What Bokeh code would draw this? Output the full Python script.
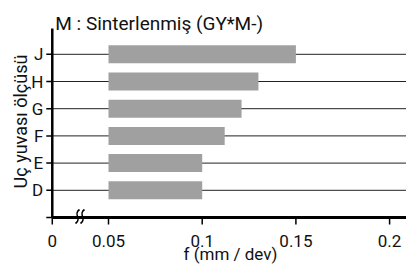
from math import pi
from bokeh.plotting import figure
from bokeh.models import Range1d
from bokeh.core.properties import value
from bokeh.embed import file_html
from bokeh.resources import INLINE

# ---- data ----
sizes = ["D", "E", "F", "G", "H", "J"]
size_pos = [1, 2, 3, 4, 5, 6]
f_min = [0.05, 0.05, 0.05, 0.05, 0.05, 0.05]
f_max = [0.100, 0.100, 0.112, 0.121, 0.130, 0.150]
x_ticks = [0.02, 0.05, 0.1, 0.15, 0.2]
x_tick_labels = ["0", "0.05", "0.1", "0.15", "0.2"]
y_ticks = [0, 1, 2, 3, 4, 5, 6]
title_text = "M : Sinterlenmiş (GY*M-)"
x_label = "f (mm / dev)"
y_label = "Uç yuvası ölçüsü"

# ---- geometry (axis break: value 0 drawn at 0.02) ----
W, H = 406, 267
X0 = 0.02            # where the (broken) axis starts
PX_X = 0.05 / 93.7   # data units per pixel
PX_Y = 1 / 27.2
Y_TOP = 6.95
X_END = 0.05 + (W - 108) * PX_X

FONT = value("Roboto")
INK = "#111111"

p = figure(width=W, height=H,
           x_range=Range1d(0.05 - 108 * PX_X, X_END),
           y_range=Range1d((217 - H) * PX_Y, 217 * PX_Y),
           output_backend="svg", toolbar_location=None,
           min_border_left=0, min_border_right=0,
           min_border_top=0, min_border_bottom=0)
p.xaxis.visible = False
p.yaxis.visible = False
p.grid.visible = False
p.outline_line_color = None

# horizontal guide lines
p.segment(x0=[X0] * len(size_pos), y0=size_pos, x1=[X_END] * len(size_pos), y1=size_pos,
          line_color="#222222", line_width=1)

# bars
p.hbar(y=size_pos, left=f_min, right=f_max, height=0.66,
       fill_color="#a0a0a0", line_color=None)

# y axis
p.segment(x0=[X0], y0=[0], x1=[X0], y1=[Y_TOP], line_color="black", line_width=2.5)
p.segment(x0=[X0 - 6 * PX_X] * len(y_ticks), y0=y_ticks, x1=[X0] * len(y_ticks), y1=y_ticks,
          line_color="black", line_width=1.5)
p.text(x=[X0 - 9 * PX_X] * len(size_pos), y=size_pos, text=sizes,
       text_align="right", text_baseline="middle",
       text_font=FONT, text_font_size="17px", text_color=INK)

# x axis
p.segment(x0=[X0], y0=[0], x1=[X_END], y1=[0], line_color="black", line_width=3)
p.segment(x0=x_ticks, y0=[0] * len(x_ticks), x1=x_ticks, y1=[-7 * PX_Y] * len(x_ticks),
          line_color="black", line_width=1.5)
p.text(x=x_ticks, y=[-23.5 * PX_Y] * len(x_ticks), text=x_tick_labels,
       text_align="center", text_baseline="alphabetic",
       text_font=FONT, text_font_size="17px", text_color=INK)

# axis break mark (two S-curves)
for cx in (0.05 - 31 * PX_X, 0.05 - 26 * PX_X):
    p.bezier(x0=[cx + 2 * PX_X], y0=[8 * PX_Y], x1=[cx - 2 * PX_X], y1=[-6 * PX_Y],
             cx0=[cx - 5 * PX_X], cy0=[3 * PX_Y], cx1=[cx + 5 * PX_X], cy1=[-1 * PX_Y],
             line_color="black", line_width=1.6)

# axis titles
p.text(x=[0.05 + 122 * PX_X], y=[-36 * PX_Y], text=[x_label],
       text_align="center", text_baseline="alphabetic",
       text_font=FONT, text_font_size="17px", text_color=INK)
p.text(x=[0.05 - 88 * PX_X], y=[96 * PX_Y], text=[y_label], angle=pi / 2,
       text_align="center", text_baseline="alphabetic",
       text_font=FONT, text_font_size="18px", text_color=INK)

# title
p.text(x=[X0 + 3 * PX_X], y=[194 * PX_Y], text=[title_text],
       text_align="left", text_baseline="alphabetic",
       text_font=FONT, text_font_size="19px", text_color=INK)

open("out.html", "w").write(file_html(p, INLINE))
